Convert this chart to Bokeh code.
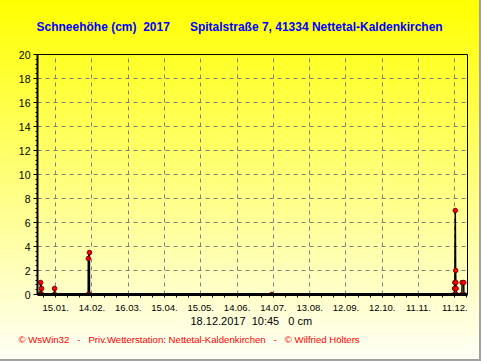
from bokeh.plotting import figure
from bokeh.models import Range1d, FixedTicker, Title
from bokeh.embed import file_html
from bokeh.resources import INLINE

# ---- data (day of year, snow depth in cm) ----
days = [2.0, 2.6, 3.4, 3.6,
        13.9, 14.1, 14.3,
        41.9, 42.0, 42.9, 43.0,
        193.6,
        344.6, 344.8, 345.0, 345.4, 345.7, 345.9, 346.1, 346.3,
        350.9, 351.0, 352.4, 352.5]
depth = [0.0, 1.0, 0.5, 0.0,
         0.0, 0.5, 0.0,
         0.0, 3.0, 3.5, 0.0,
         0.0,
         0.0, 0.5, 1.0, 7.0, 2.0, 1.0, 0.5, 0.0,
         0.0, 1.0, 1.0, 0.0]

tick_days = [15, 45, 75, 105, 135, 165, 195, 225, 255, 285, 315, 345]
tick_labels = ["15.01.", "14.02.", "16.03.", "15.04.", "15.05.", "14.06.",
               "14.07.", "13.08.", "12.09.", "12.10.", "11.11.", "11.12."]
y_ticks = [0, 2, 4, 6, 8, 10, 12, 14, 16, 18, 20]

NB = "\u00a0"
title_text = "Schneehöhe (cm)" + NB * 2 + "2017" + NB * 6 + "Spitalstraße 7, 41334 Nettetal-Kaldenkirchen"
stamp = "18.12.2017" + NB * 2 + "10:45" + NB * 3 + "0 cm"
footer = "© WsWin32" + NB * 3 + "-" + NB * 3 + "Priv.Wetterstation: Nettetal-Kaldenkirchen" + NB * 3 + "-" + NB * 3 + "© Wilfried Hölters"

FONT = "Liberation Sans"
W, H = 481, 361

p = figure(width=W, height=H, output_backend="svg", toolbar_location=None,
           x_range=Range1d(0, 355.5), y_range=Range1d(0, 20),
           min_border_left=37, min_border_right=14,
           min_border_top=54, min_border_bottom=67)
p.background_fill_alpha = 0
p.border_fill_alpha = 0
p.outline_line_color = "black"
p.outline_line_width = 1
p.styles = {"background": "linear-gradient(to bottom, #FFFF00 0%, #FFFFF8 100%)",
            "box-shadow": "inset -2px -2px 0 0 #A0A0A0"}

# axes
p.xaxis.ticker = FixedTicker(ticks=tick_days, minor_ticks=list(range(5, 356, 10)))
p.xaxis.major_label_overrides = {d: l for d, l in zip(tick_days, tick_labels)}
p.yaxis.ticker = FixedTicker(ticks=y_ticks, minor_ticks=[i * 0.4 for i in range(51)])
for ax in (p.xaxis, p.yaxis):
    ax.axis_line_color = "black"
    ax.major_tick_line_color = "black"
    ax.minor_tick_line_color = "black"
    ax.major_label_text_font = FONT
    ax.major_label_text_color = "black"
    ax.major_tick_in = 0
    ax.minor_tick_in = 0
p.xaxis.axis_line_width = 3
p.xaxis.major_tick_out = 0
p.xaxis.minor_tick_out = 3
p.xaxis.major_label_standoff = 7
p.xaxis.major_label_text_font_size = "9.5px"
p.yaxis.axis_line_width = 2
p.yaxis.major_tick_out = 4
p.yaxis.minor_tick_out = 2
p.yaxis.major_label_standoff = 3
p.yaxis.major_label_text_font_size = "10.5px"

p.grid.grid_line_color = "#808080"
p.grid.grid_line_dash = "4 4"
p.grid.grid_line_width = 1

# data
p.line(days, depth, line_color="black", line_width=1.5)
p.scatter(days, depth, size=4.5, fill_color="#FF0000", line_color="#800000", line_width=1)

# texts
p.add_layout(Title(text=title_text, align="left", offset=-1, standoff=38, vertical_align="top",
                   text_font=FONT, text_font_size="12px", text_font_style="bold",
                   text_color="#0000FF"), "above")
p.add_layout(Title(text=stamp, align="left", offset=153, standoff=3, vertical_align="top",
                   text_font=FONT, text_font_size="11px", text_font_style="normal",
                   text_color="black"), "below")
p.add_layout(Title(text=footer, align="left", offset=-19, standoff=6, vertical_align="top",
                   text_font=FONT, text_font_size="9.6px", text_font_style="normal",
                   text_color="#FF0000"), "below")

open("out.html", "w").write(file_html(p, INLINE))
